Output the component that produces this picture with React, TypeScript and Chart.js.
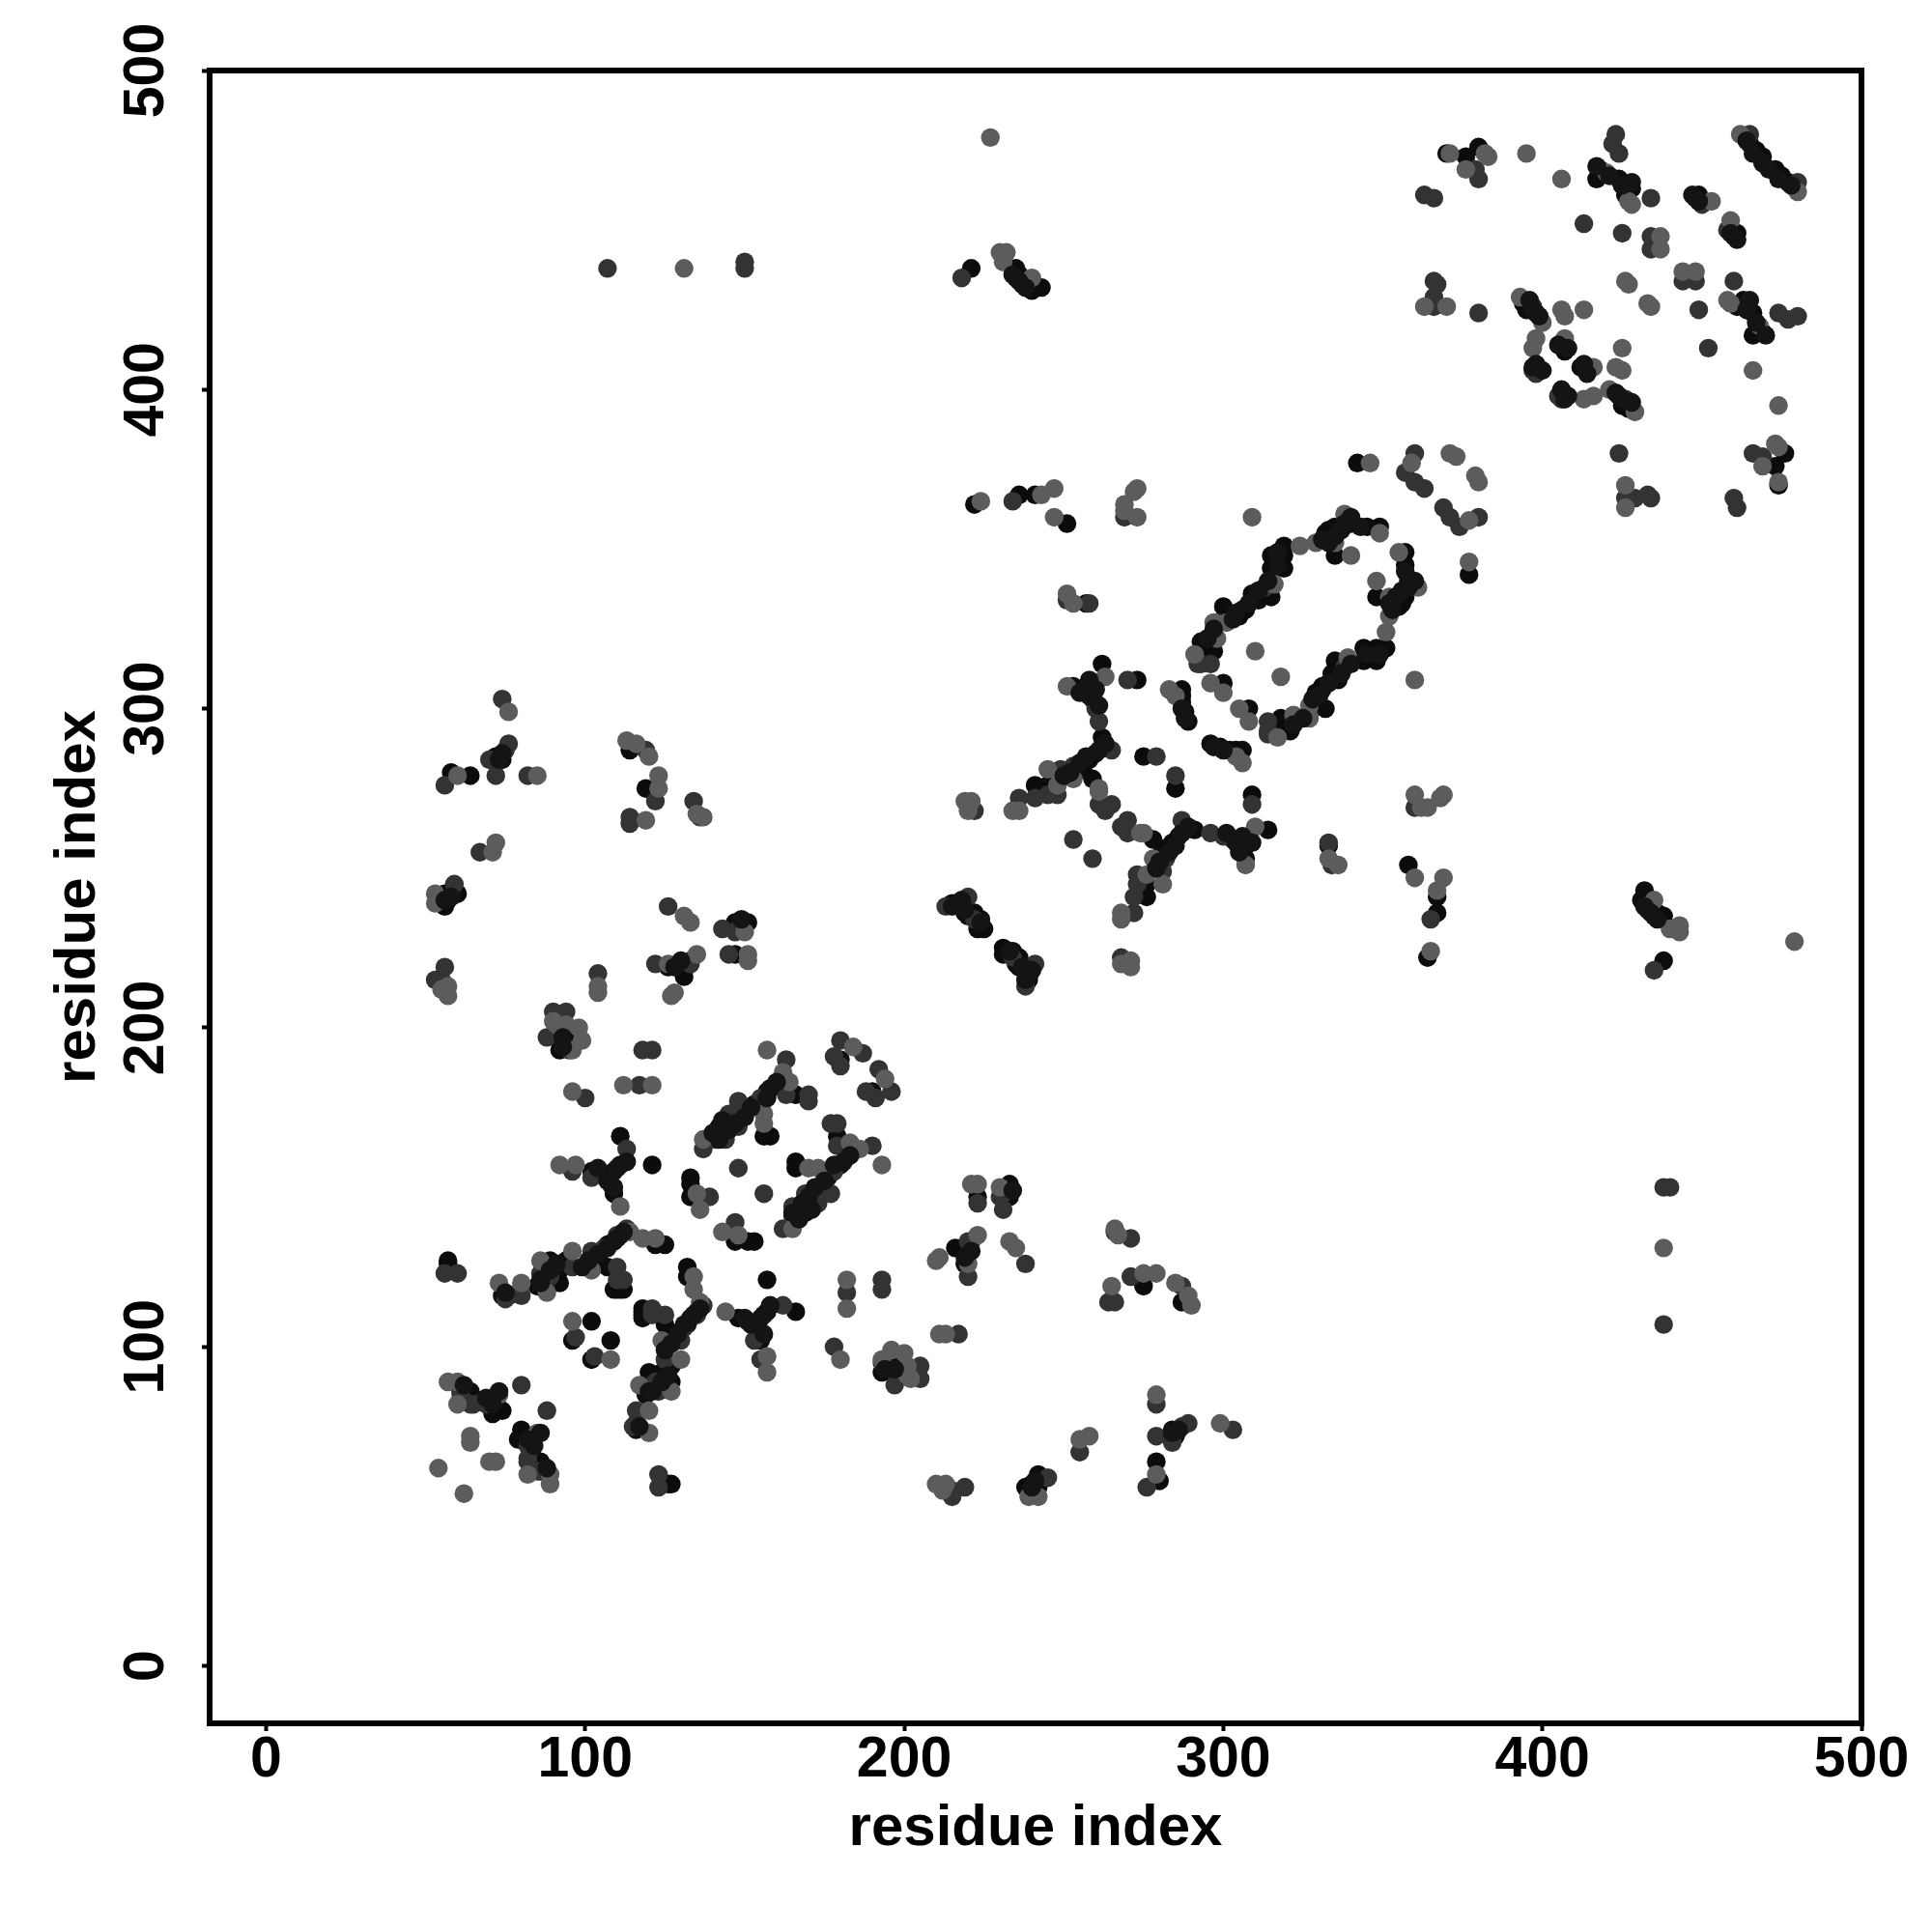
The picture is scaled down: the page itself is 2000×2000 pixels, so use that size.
import React, { useEffect, useRef } from "react";
import { Chart, registerables } from "chart.js";

Chart.register(...registerables);

// Contacts read below the diagonal as [residue x, residue y]; the map is symmetric, so each is also drawn mirrored.
const contactsBlack: [number, number][] = [
  [86,61],[86,64],[80,71],[80,74],[84,72],[79,71],[116,76],[116,74],[127,94],[120,92],[127,89],[120,89],[124,92],[122,87],[119,85],
  [132,107],[130,105],[128,103],[133,109],[135,111],[118,111],[118,110],[125,107],[118,109],[118,112],[132,122],[132,125],[126,57],[127,57],
  [157,121],[148,109],[151,108],[154,107],[155,109],[157,111],[166,111],[155,102],[193,92],[108,102],[102,96],[147,133],[151,133],[153,133],
  [179,157],[177,155],[176,153],[180,157],[169,142],[166,141],[166,158],[166,156],[179,166],[190,180],[196,95],[196,92],
  [223,147],[233,151],[233,147],[216,131],[218,131],[219,126],[219,130],[275,119],[287,114],[284,74],[284,71],[285,72],[279,64],[280,58],
  [242,60],[238,56],[242,56],[240,57],[236,219],[239,216],[236,222],[234,224],[231,225],[231,223],[238,218],[239,215],[235,220],
  [276,241],[276,245],[281,256],[284,258],[286,260],[288,262],[291,262],[303,259],[305,259],[307,257],[307,253],[314,262],[278,259],[309,273],
  [296,289],[299,288],[304,287],[306,287],[302,287],[308,300],[318,297],[317,293],[321,293],[332,300],[331,306],[285,275],
  [377,342],[358,340],[355,332],[357,335],[356,333],[348,335],[357,345],[357,349],[351,319],[348,319],[344,319],[344,315],[348,315],[335,315],
  [336,309],[331,307],[334,311],[329,305],[321,294],[316,293],[333,257],[358,251],[367,241],[367,236],[364,222],
  [432,243],[431,240],[433,237],[435,235],[438,235],[438,221],[436,236],[476,380],[473,376],[474,370],[424,398],[425,395],[427,394],[412,407],
  [461,426],[466,424],[463,428],[469,418],[466,417],[461,449],[460,448],[475,467],[473,469],[477,465],
];

const contactsDark: [number, number][] = [
  [82,64],[83,68],[82,69],[88,80],[85,61],[82,65],[116,80],[115,75],[125,96],[122,89],[123,86],[137,113],[135,110],[130,102],[131,106],
  [121,112],[125,110],[121,110],[123,60],[123,56],[162,113],[153,102],[155,96],[178,100],[182,117],[193,121],[193,118],[103,97],[147,139],
  [162,137],[165,141],[190,163],[182,160],[178,155],[177,148],[173,149],[169,148],[173,145],[165,144],[177,170],[179,170],[179,163],[156,148],
  [192,187],[196,180],[188,180],[191,178],[223,145],[230,147],[231,143],[231,148],[220,133],[221,133],[220,122],[238,126],[217,104],[193,95],
  [197,88],[205,94],[205,90],[266,136],[271,134],[271,122],[264,114],[266,114],[287,119],[279,82],[289,76],[287,75],[279,72],[284,70],[303,74],
  [255,67],[276,56],[245,59],[219,56],[215,55],[215,53],[241,220],[238,213],[234,222],[272,236],[268,222],[272,241],[273,248],[273,245],[281,249],
  [282,253],[287,265],[296,261],[300,260],[308,260],[270,265],[268,263],[270,261],[259,253],[309,270],[285,279],[314,293],[333,258],[338,313],
  [327,298],[314,296],[314,292],[380,360],[374,357],[371,360],[369,363],[424,380],[426,366],[429,366],[433,367],[434,366],[460,366],[461,363],
  [466,380],[469,379],[452,413],[405,398],[406,397],[426,397],[414,407],[449,425],[460,434],[474,424],[477,422],[480,423],[458,450],[480,465],
  [444,434],[448,434],[334,251],[360,269],[365,234],[435,218],[438,107],[438,150],[440,150],
];

const contactsGray: [number, number][] = [
  [62,54],[89,57],[89,60],[82,60],[72,64],[70,64],[85,73],[120,80],[120,73],[130,96],[127,86],[117,88],[124,102],[136,114],[134,118],[134,122],
  [144,111],[157,97],[157,92],[180,96],[182,121],[182,112],[193,96],[108,96],[143,136],[148,135],[165,137],[193,157],[186,162],[183,164],[170,156],
  [173,156],[194,184],[221,151],[223,151],[230,150],[223,135],[211,128],[210,127],[220,126],[233,133],[235,131],[211,104],[213,104],[196,99],[200,98],
  [201,94],[201,91],[202,90],[266,137],[267,135],[275,123],[279,123],[265,119],[285,120],[289,116],[290,113],[279,85],[299,76],[258,72],[255,71],[279,60],
  [239,53],[242,53],[210,57],[213,57],[212,55],[268,236],[268,234],[268,220],[271,221],[271,219],[276,248],[281,245],[278,253],[307,251],[310,263],
  [274,261],[275,261],[306,283],[304,285],[305,300],[308,296],[323,297],[327,297],[318,310],[360,309],[377,346],[361,338],[352,329],[352,335],[348,340],
  [355,349],[351,324],[339,316],[327,301],[322,298],[317,291],[380,371],[379,373],[377,359],[426,370],[426,363],[469,376],[473,383],[474,382],[474,371],
  [474,395],[466,406],[425,413],[425,406],[423,407],[413,397],[416,398],[421,400],[429,393],[416,407],[433,427],[434,426],[459,427],[458,428],[468,420],
  [459,453],[444,437],[448,437],[480,462],[360,273],[362,269],[364,269],[369,273],[368,272],[333,253],[336,251],[360,247],[369,247],[367,243],[365,224],
  [435,240],[440,231],[443,232],[443,230],[479,227],[438,131],
];

// Marks in the densest strands, which sit on top of the gray ones.
const contactsCore: [number, number][] = [
  [129,104],[131,107],[134,110],[136,112],[127,101],[125,99],[121,86],[124,89],[126,91],[120,86],[117,75],
  [170,147],[172,150],[175,152],[178,157],[181,158],[183,160],[168,145],[171,143],[165,142],[167,140],
  [152,107],[156,110],[158,113],[150,109],[156,104],[88,62],[84,69],[82,71],[86,73],
  [322,295],[325,297],[328,303],[330,304],[333,308],[337,311],[340,314],[345,317],[349,317],
  [352,333],[354,335],[356,337],[358,338],[353,331],[360,340],[357,343],
  [279,250],[280,252],[283,255],[285,257],[287,261],[289,263],[301,261],[304,258],[306,260],[305,255],[309,258],
  [240,218],[237,219],[233,224],[238,215],[432,238],[434,236],[436,234],[219,128],[221,130],
  [428,396],[423,399],[425,397],[464,425],[467,421],[465,428],[470,417],[459,449],[461,447],
  [474,466],[478,464],[471,469],[408,398],[406,400],[414,405],[413,408],[407,397],
  [297,288],[300,287],[194,93],[197,93],[234,149],[284,73],[286,74],[240,56],[241,58],
];

const tickValues = [0, 100, 200, 300, 400, 500];
const axisTitle = "residue index";
const fontFamily = '"Liberation Sans", Arial, sans-serif';

const mirrored = (pairs: [number, number][]) =>
  pairs.flatMap(([a, b]) => [{ x: a, y: b }, { x: b, y: a }]);

const frame = {
  id: "frame",
  afterDraw(chart: Chart) {
    const { ctx, chartArea: a } = chart;
    ctx.save();
    ctx.lineWidth = 6;
    ctx.strokeStyle = "#000";
    ctx.strokeRect(a.left, a.top, a.right - a.left, a.bottom - a.top);
    ctx.restore();
  },
};

export default function App() {
  const ref = useRef<HTMLCanvasElement>(null);
  useEffect(() => {
    const ticks = { font: { family: fontFamily, size: 59, weight: "bold" }, color: "#000", autoSkip: false, stepSize: 100, includeBounds: false };
    const grid = { drawOnChartArea: false, drawTicks: true, tickLength: 8, tickWidth: 4, tickColor: "#000" };
    const title = (padding: any) => ({ display: true, text: axisTitle, color: "#000", font: { family: fontFamily, size: 60, weight: "bold", lineHeight: 1.2 }, padding });
    const ds = (label: string, data: any[], color: string) => ({
      label, data, backgroundColor: color, borderWidth: 0, pointRadius: 9.7, pointHoverRadius: 9.7,
    });
    const chart = new Chart(ref.current!, {
      type: "scatter",
      data: {
        // Chart.js paints the first dataset last.
        datasets: [
          ds("core", mirrored(contactsCore), "#141414"),
          ds("gray", mirrored(contactsGray), "#5c5c5c"),
          ds("dark", mirrored(contactsDark), "#333333"),
          ds("black", mirrored(contactsBlack), "#0c0c0c"),
        ],
      },
      options: {
        responsive: false,
        animation: false,
        layout: { padding: { top: 73, right: 73, left: 0, bottom: 0 } },
        plugins: { legend: { display: false }, tooltip: { enabled: false } },
        scales: {
          x: {
            type: "linear", min: -17.7, max: 500, position: "bottom",
            ticks: { ...ticks, padding: -5, maxRotation: 0, minRotation: 0, callback: (v: any) => (tickValues.includes(v) ? String(v) : "") },
            grid, border: { display: false },
            title: title({ top: 0, bottom: 71 }),
            afterFit: (s: any) => { s.height = 216; },
          },
          y: {
            type: "linear", min: -18, max: 500, position: "left",
            ticks: { ...ticks, padding: 7, minRotation: 90, maxRotation: 90, crossAlign: "center", callback: (v: any) => (tickValues.includes(v) ? String(v) : "") },
            grid, border: { display: false },
            title: title({ top: 45, bottom: 0 }),
            afterFit: (s: any) => { s.width = 217; },
          },
        },
      } as any,
      plugins: [frame],
    });
    return () => chart.destroy();
  }, []);
  return (
    <div style={{ position: "absolute", left: 0, top: 0, width: 2000, height: 2000, background: "#fff" }}>
      <canvas ref={ref} width={2000} height={2000} style={{ display: "block" }} />
    </div>
  );
}
